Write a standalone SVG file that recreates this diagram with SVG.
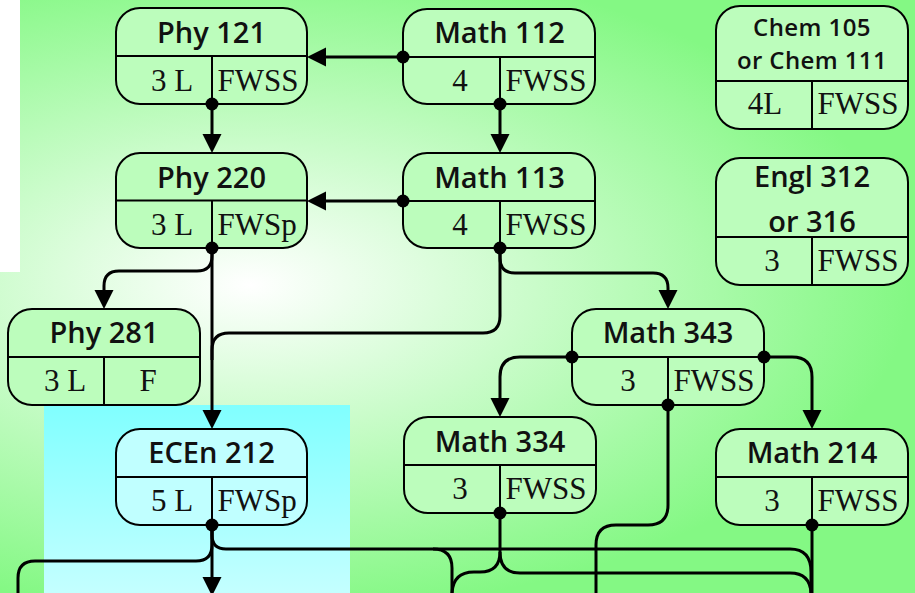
<svg xmlns="http://www.w3.org/2000/svg" width="915" height="593" viewBox="0 0 915 593">
<defs>
<radialGradient id="bg" gradientUnits="userSpaceOnUse" cx="0" cy="0" r="1" gradientTransform="translate(250,285) scale(660,330)">
<stop offset="0" stop-color="#ffffff"/>
<stop offset="1" stop-color="#84f884"/>
</radialGradient>
<linearGradient id="cy" x1="0" y1="0" x2="0" y2="1">
<stop offset="0" stop-color="#80ffff"/>
<stop offset="1" stop-color="#c4ffff"/>
</linearGradient>
<marker id="arr" markerUnits="userSpaceOnUse" markerWidth="20" markerHeight="20" refX="0" refY="9.5" orient="auto" overflow="visible">
<path d="M0,0 L19,9.5 L0,19 z" fill="#000"/>
</marker>
</defs>
<style>
.box{fill:#bcfdbc;stroke:#000;stroke-width:2}
.cyan .box{fill:#c0ffff}
.div{stroke:#000;stroke-width:2;fill:none}
.hd{font-family:"Open Sans","Noto Sans",sans-serif;font-weight:600;font-size:29px;text-anchor:middle;fill:#111}
.hs{font-size:24px;letter-spacing:0.4px}
.lo{font-family:"Liberation Serif","Times New Roman",serif;font-size:31px;fill:#111}
.m{text-anchor:middle}
.c{fill:none;stroke:#000;stroke-width:3}
.a{marker-end:url(#arr)}
.dot{fill:#000}
</style>
<rect x="0" y="0" width="915" height="593" fill="url(#bg)"/>
<rect x="0" y="0" width="20" height="272" fill="#ffffff"/>
<rect x="44" y="405" width="306" height="188" fill="url(#cy)"/>

<g id="phy121">
<rect class="box" x="116" y="8" width="191" height="96" rx="24"/>
<path class="div" d="M116,56 H307 M212,56 V104"/>
<text class="hd" x="211.5" y="43">Phy 121</text>
<text class="lo m" x="172" y="91">3 L</text>
<text class="lo" x="217.5" y="91">FWSS</text>
</g>
<g id="math112">
<rect class="box" x="403" y="9" width="192" height="95" rx="24"/>
<path class="div" d="M403,57 H595 M500,57 V104"/>
<text class="hd" x="499.5" y="43">Math 112</text>
<text class="lo m" x="460" y="91">4</text>
<text class="lo" x="505.5" y="91">FWSS</text>
</g>
<g id="chem105">
<rect class="box" x="716" y="6" width="192" height="123" rx="24"/>
<path class="div" d="M716,81 H908 M812,81 V129"/>
<text class="hd hs"><tspan x="812" y="36">Chem 105</tspan><tspan x="812" y="69">or Chem 111</tspan></text>
<text class="lo m" x="765" y="114">4L</text>
<text class="lo" x="817.5" y="114">FWSS</text>
</g>
<g id="phy220">
<rect class="box" x="116" y="153" width="191" height="95" rx="24"/>
<path class="div" d="M116,200.5 H307 M212,200.5 V248"/>
<text class="hd" x="211.5" y="188">Phy 220</text>
<text class="lo m" x="172" y="235">3 L</text>
<text class="lo" x="217.5" y="235">FWSp</text>
</g>
<g id="math113">
<rect class="box" x="403" y="153" width="192" height="95" rx="24"/>
<path class="div" d="M403,201 H595 M500,201 V248"/>
<text class="hd" x="499.5" y="188">Math 113</text>
<text class="lo m" x="460" y="235">4</text>
<text class="lo" x="505.5" y="235">FWSS</text>
</g>
<g id="engl312">
<rect class="box" x="716" y="158" width="192" height="127" rx="24"/>
<path class="div" d="M716,237 H908 M812,237 V285"/>
<text class="hd"><tspan x="812" y="187">Engl 312</tspan><tspan x="812" y="232">or 316</tspan></text>
<text class="lo m" x="772" y="271">3</text>
<text class="lo" x="817.5" y="271">FWSS</text>
</g>
<g id="phy281">
<rect class="box" x="8" y="309" width="192" height="96" rx="24"/>
<path class="div" d="M8,357 H200 M104,357 V405"/>
<text class="hd" x="104" y="343">Phy 281</text>
<text class="lo m" x="65" y="391">3 L</text>
<text class="lo m" x="148" y="391">F</text>
</g>
<g id="math343">
<rect class="box" x="572" y="309" width="192" height="96" rx="24"/>
<path class="div" d="M572,357 H764 M668,357 V405"/>
<text class="hd" x="668" y="343">Math 343</text>
<text class="lo m" x="628" y="391">3</text>
<text class="lo" x="673.5" y="391">FWSS</text>
</g>
<g id="math334">
<rect class="box" x="404" y="417" width="192" height="96" rx="24"/>
<path class="div" d="M404,465 H596 M500,465 V513"/>
<text class="hd" x="500" y="452">Math 334</text>
<text class="lo m" x="460" y="499">3</text>
<text class="lo" x="505.5" y="499">FWSS</text>
</g>
<g id="ecen212" class="cyan">
<rect class="box" x="116" y="429" width="191" height="96" rx="24"/>
<path class="div" d="M116,477 H307 M212,477 V525"/>
<text class="hd" x="211.5" y="463">ECEn 212</text>
<text class="lo m" x="172" y="511">5 L</text>
<text class="lo" x="217.5" y="511">FWSp</text>
</g>
<g id="math214">
<rect class="box" x="716" y="429" width="192" height="96" rx="24"/>
<path class="div" d="M716,477 H908 M812,477 V525"/>
<text class="hd" x="812" y="463">Math 214</text>
<text class="lo m" x="772" y="511">3</text>
<text class="lo" x="817.5" y="511">FWSS</text>
</g>

<g id="connectors">
<path class="c a" d="M403,57 H326"/>
<path class="c a" d="M403,201 H326"/>
<path class="c a" d="M212,104 V134"/>
<path class="c a" d="M500,104 V134"/>
<path class="c a" d="M212,248 V256 Q212,271 197,271 H119 Q104,271 104,286 V290"/>
<path class="c a" d="M212,248 V410"/>
<path class="c" d="M500,248 V316 Q500,333 483,333 H229 Q212,333 212,350 V360"/>
<path class="c a" d="M500,248 V258 Q500,273 515,273 H653 Q668,273 668,288 V290"/>
<path class="c a" d="M572,357 H520 Q500,357 500,377 V398"/>
<path class="c a" d="M764,357 H792 Q812,357 812,377 V410"/>
<path class="c" d="M668,405 V505 Q668,525 648,525 H616 Q596,525 596,545 V595"/>
<path class="c a" d="M212,525 V577"/>
<path class="c" d="M212,530 V545 Q212,561 196,561 H35 Q18,561 18,578 V595"/>
<path class="c" d="M212,530 V535 Q212,549 226,549 H433 Q452,549 452,568 V595"/>
<path class="c" d="M433,549 H790 Q811,549 811,572 V595"/>
<path class="c" d="M500,513 V552 Q500,572 480,572 H474 Q452,572 452,595"/>
<path class="c" d="M500,552 Q500,573 520,573 H790 Q811,573 811,595"/>
<path class="c" d="M812,525 V595"/>
<circle class="dot" cx="403" cy="57" r="6.5"/>
<circle class="dot" cx="403" cy="201" r="6.5"/>
<circle class="dot" cx="212" cy="104" r="6.5"/>
<circle class="dot" cx="500" cy="104" r="6.5"/>
<circle class="dot" cx="212" cy="248" r="6.5"/>
<circle class="dot" cx="500" cy="248" r="6.5"/>
<circle class="dot" cx="572" cy="357" r="6.5"/>
<circle class="dot" cx="764" cy="357" r="6.5"/>
<circle class="dot" cx="668" cy="405" r="6.5"/>
<circle class="dot" cx="212" cy="525" r="6.5"/>
<circle class="dot" cx="500" cy="513" r="6.5"/>
<circle class="dot" cx="812" cy="525" r="6.5"/>
</g>
</svg>
